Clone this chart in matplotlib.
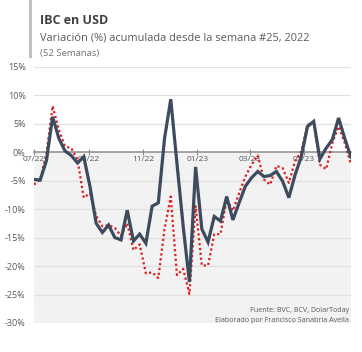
import numpy as np
import pandas as pd
import matplotlib
matplotlib.use('Agg')
import matplotlib.pyplot as plt
import matplotlib.dates as mdates
from matplotlib.patches import Rectangle

plt.rcParams['font.family'] = ['Open Sans', 'DejaVu Sans']

# weekly values, % change since week 25 of 2022
semanas = pd.date_range('2022-07-01', periods=52, freq='W-FRI')
ibc_usd = [-4.8, -4.9, -1.5, 6.2, 2.4, 0.2, -0.6, -1.9, -0.8, -6.0, -12.5, -14.1, -12.8,
           -15.0, -15.4, -10.2, -15.6, -14.4, -16.0, -9.5, -8.9, 2.4, 9.3, -2.0, -13.0,
           -22.8, -2.6, -13.5, -15.8, -11.3, -12.1, -7.8, -11.9, -8.9, -6.0, -4.5, -3.4,
           -4.3, -4.1, -3.4, -5.1, -8.0, -4.0, -0.8, 4.5, 5.4, -1.2, 0.7, 2.2, 6.0, 2.4, -0.9]
ibc_alt = [-5.7, -4.8, -0.2, 8.1, 3.9, 1.0, 0.7, -1.3, -8.0, -7.2, -11.2, -13.0, -12.8,
           -13.3, -14.7, -12.5, -17.2, -16.2, -21.3, -21.1, -22.1, -13.5, -7.8, -21.6, -20.5,
           -24.9, -9.5, -19.9, -19.9, -14.4, -14.4, -8.3, -10.3, -7.2, -4.3, -2.2, -0.6,
           -4.8, -5.7, -2.4, -2.8, -5.4, -1.6, 0.1, 4.8, 5.2, -2.2, -3.0, 1.6, 4.5, 1.6, -2.2]
y_ticks = [15, 10, 5, 0, -5, -10, -15, -20, -25, -30]

W, H = 362, 352
fig = plt.figure(figsize=(W / 100, H / 100), dpi=100)
ax = fig.add_axes([34 / W, 1 - 323 / H, (351 - 34) / W, (323 - 66.7) / H])

ax.fill_between(semanas, -30, 0, color='#F2F2F2', lw=0, zorder=0)
for v in y_ticks:
    if v != 0:
        ax.axhline(v, color='#E0E0E0', lw=0.9, zorder=1)

ax.plot(semanas, ibc_alt, color='#DD1C1C', lw=1.6, ls=(0, (1, 1.2)), zorder=3)
ax.plot(semanas, ibc_usd, color='#3D4B5F', lw=2.3, zorder=4, solid_joinstyle='miter')

ax.set_xlim(semanas[0], semanas[-1])
ax.set_ylim(-30, 15)
ax.set_yticks(y_ticks)
ax.set_yticklabels([f'{v}%' for v in y_ticks])
ax.tick_params(axis='y', length=0, pad=6, labelsize=6.5, labelcolor='#595959')

ax.xaxis.set_major_locator(mdates.MonthLocator(bymonth=[1, 3, 5, 7, 9, 11]))
ax.xaxis.set_major_formatter(mdates.DateFormatter('%m/%y'))
ax.spines['bottom'].set_position(('data', 0))
ax.spines['bottom'].set_color('#8C8C8C')
ax.spines['bottom'].set_linewidth(1.1)
ax.spines['bottom'].set_zorder(2)
ax.tick_params(axis='x', direction='inout', length=4, width=0.8, color='#8C8C8C',
               labelsize=6, labelcolor='#595959', pad=1)
for s in ['top', 'left', 'right']:
    ax.spines[s].set_visible(False)
ax.set_facecolor('none')

fig.patches.append(Rectangle((29 / W, 1 - 58 / H), 3 / W, 58 / H,
                             transform=fig.transFigure, color='#BFBFBF', lw=0))
fig.text(40 / W, 1 - 24 / H, 'IBC en USD', fontsize=9, fontweight='bold',
         color='#404040', va='baseline')
fig.text(40 / W, 1 - 40 / H, 'Variación (%) acumulada desde la semana #25, 2022',
         fontsize=7.9, color='#595959', va='baseline')
fig.text(40 / W, 1 - 56 / H, '(52 Semanas)', fontsize=6.8, color='#737373', va='baseline')

fig.text(349 / W, 1 - 312.5 / H, 'Fuente: BVC, BCV, DolarToday', fontsize=5.1,
         color='#595959', ha='right', va='baseline')
fig.text(349 / W, 1 - 322 / H, 'Elaborado por Francisco Sanabria Avella', fontsize=5.1,
         color='#595959', ha='right', va='baseline')

fig.savefig('out.png', dpi=100)
